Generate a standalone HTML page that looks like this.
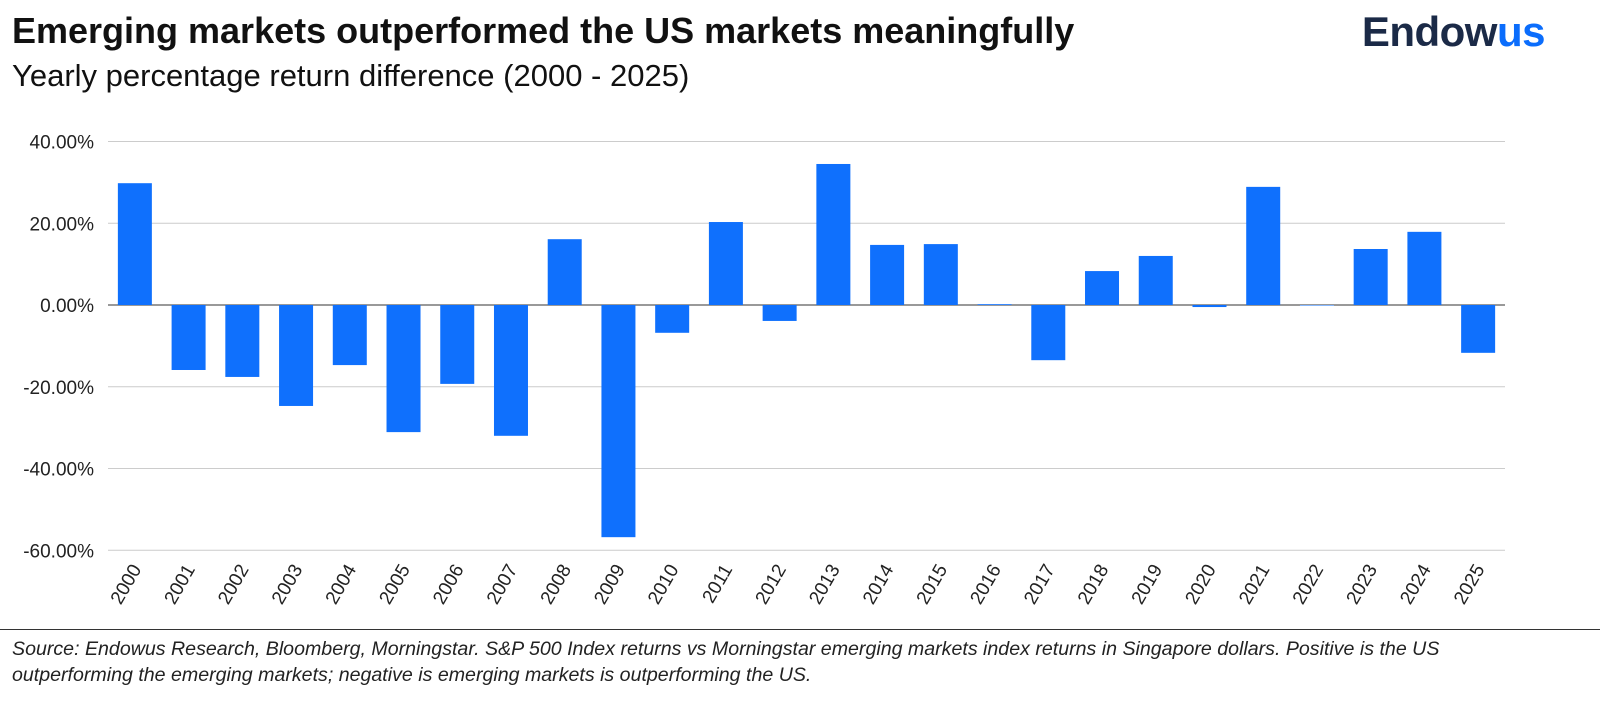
<!DOCTYPE html>
<html><head><meta charset="utf-8"><style>
body{margin:0;background:#fff;width:1600px;height:705px;overflow:hidden;font-family:"Liberation Sans",sans-serif;position:relative}
#title{position:absolute;left:12px;top:10px;font-size:36px;font-weight:bold;color:#111}
#sub{position:absolute;left:12px;top:58px;font-size:31px;color:#111}
#logo{position:absolute;right:55px;top:8px;font-size:42px;font-weight:bold;color:#1b2a47;letter-spacing:-0.5px}
#logo span{color:#0b6dfc}
#foot{position:absolute;left:12px;top:636px;width:1500px;font-size:19.6px;font-style:italic;color:#222;line-height:26px}
#rule{position:absolute;left:0;top:629px;width:1600px;height:1px;background:#333}
</style></head><body>
<div id="title">Emerging markets outperformed the US markets meaningfully</div>
<div id="sub">Yearly percentage return difference (2000 - 2025)</div>
<div id="logo">Endow<span>us</span></div>
<svg id="chart" width="1600" height="630" style="position:absolute;left:0;top:0"></svg>
<div id="rule"></div>
<div id="foot">Source: Endowus Research, Bloomberg, Morningstar. S&amp;P 500 Index returns vs Morningstar emerging markets index returns in Singapore dollars. Positive is the US outperforming the emerging markets; negative is emerging markets is outperforming the US.</div>
<script>
const years=["2000","2001","2002","2003","2004","2005","2006","2007","2008","2009","2010","2011","2012","2013","2014","2015","2016","2017","2018","2019","2020","2021","2022","2023","2024","2025"];
const values=[29.8,-15.9,-17.6,-24.7,-14.7,-31.1,-19.3,-32.0,16.1,-56.8,-6.8,20.3,-3.9,34.5,14.7,14.9,0.2,-13.5,8.3,12.0,-0.5,28.9,0,13.7,17.9,-11.7];
const ticks=[40,20,0,-20,-40,-60];
const tickLabels=["40.00%","20.00%","0.00%","-20.00%","-40.00%","-60.00%"];
const svg=document.getElementById('chart');const NS="http://www.w3.org/2000/svg";
const L=108,R=1505,y0=305,k=81.75/20;
const Y=v=>y0-v*k;
const step=(R-L)/years.length;
const X=i=>L+step*(i+0.5);
function mk(t,a){const e=document.createElementNS(NS,t);for(const q in a)e.setAttribute(q,a[q]);svg.appendChild(e);return e;}
ticks.forEach((t,i)=>{
 const g=mk('line',{x1:L,x2:R,y1:Y(t),y2:Y(t),stroke:t===0?'#333':'#ccc','stroke-width':1});
 
 
 const tx=mk('text',{x:L-14,y:Y(t)+7,'text-anchor':'end','font-size':19,fill:'#222'});
 tx.textContent=tickLabels[i];
 
 
});
values.forEach((v,i)=>{
 const w=34,top=Math.min(Y(v),y0),h=Math.max(Math.abs(Y(v)-y0),0.5);
 const b=mk('rect',{x:X(i)-w/2,y:top,width:w,height:h,fill:'#0f70fd'});
 
 
 const tx=mk('text',{x:X(i)+7,y:569,'text-anchor':'end','font-size':19,fill:'#222',transform:`rotate(-60 ${X(i)+7} 569)`});
 tx.textContent=years[i];
 
 
});
</script>
</body></html>
